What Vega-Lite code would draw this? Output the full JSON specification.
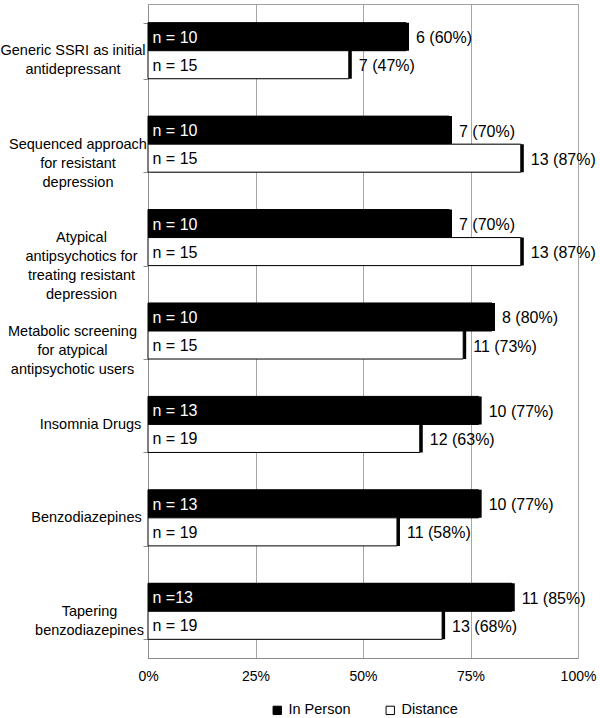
{
  "$schema": "https://vega.github.io/schema/vega-lite/v6.json",
  "autosize": "none",
  "width": 430,
  "height": 654,
  "padding": {"left": 148, "top": 4, "right": 22, "bottom": 60},
  "background": "white",
  "config": {
    "font": "Liberation Sans",
    "view": {"stroke": "#a0a0a0", "strokeWidth": 1},
    "axis": {"labelColor": "black", "labelFont": "Liberation Sans", "domainColor": "#8c8c8c", "tickColor": "#8c8c8c", "gridColor": "#a6a6a6"}
  },
  "data": {
    "values": [
      {"category": "Generic SSRI as initial antidepressant", "group": "In Person", "share": 0.6, "n": "n = 10", "label": "6 (60%)"},
      {"category": "Generic SSRI as initial antidepressant", "group": "Distance", "share": 0.467, "n": "n = 15", "label": "7 (47%)"},
      {"category": "Sequenced approach for resistant depression", "group": "In Person", "share": 0.7, "n": "n = 10", "label": "7 (70%)"},
      {"category": "Sequenced approach for resistant depression", "group": "Distance", "share": 0.867, "n": "n = 15", "label": "13 (87%)"},
      {"category": "Atypical antipsychotics for treating resistant depression", "group": "In Person", "share": 0.7, "n": "n = 10", "label": "7 (70%)"},
      {"category": "Atypical antipsychotics for treating resistant depression", "group": "Distance", "share": 0.867, "n": "n = 15", "label": "13 (87%)"},
      {"category": "Metabolic screening for atypical antipsychotic users", "group": "In Person", "share": 0.8, "n": "n = 10", "label": "8 (80%)"},
      {"category": "Metabolic screening for atypical antipsychotic users", "group": "Distance", "share": 0.733, "n": "n = 15", "label": "11 (73%)"},
      {"category": "Insomnia Drugs", "group": "In Person", "share": 0.769, "n": "n = 13", "label": "10 (77%)"},
      {"category": "Insomnia Drugs", "group": "Distance", "share": 0.632, "n": "n = 19", "label": "12 (63%)"},
      {"category": "Benzodiazepines", "group": "In Person", "share": 0.769, "n": "n = 13", "label": "10 (77%)"},
      {"category": "Benzodiazepines", "group": "Distance", "share": 0.579, "n": "n = 19", "label": "11 (58%)"},
      {"category": "Tapering benzodiazepines", "group": "In Person", "share": 0.846, "n": "n =13", "label": "11 (85%)"},
      {"category": "Tapering benzodiazepines", "group": "Distance", "share": 0.684, "n": "n = 19", "label": "13 (68%)"}
    ]
  },
  "encoding": {
    "y": {
      "field": "category",
      "type": "nominal",
      "sort": null,
      "scale": {"paddingInner": 0.4, "paddingOuter": 0.2},
      "axis": {
        "title": null,
        "tickBand": "extent",
        "tickSize": 5,
        "labelAlign": "center",
        "labelBaseline": "middle",
        "labelPadding": {
          "condition": [
            {"test": "datum.value == 'Generic SSRI as initial antidepressant'", "value": 70.5},
            {"test": "datum.value == 'Sequenced approach for resistant depression'", "value": 65.5},
            {"test": "datum.value == 'Atypical antipsychotics for treating resistant depression'", "value": 62},
            {"test": "datum.value == 'Metabolic screening for atypical antipsychotic users'", "value": 71},
            {"test": "datum.value == 'Insomnia Drugs'", "value": 53},
            {"test": "datum.value == 'Benzodiazepines'", "value": 57}
          ],
          "value": 54
        },
        "labelFontSize": 14.5,
        "labelLineHeight": 19,
        "labelLimit": 0,
        "labelExpr": "datum.value == 'Generic SSRI as initial antidepressant' ? ['Generic SSRI as initial', 'antidepressant'] : datum.value == 'Sequenced approach for resistant depression' ? ['Sequenced approach', 'for resistant', 'depression'] : datum.value == 'Atypical antipsychotics for treating resistant depression' ? ['Atypical', 'antipsychotics for', 'treating resistant', 'depression'] : datum.value == 'Metabolic screening for atypical antipsychotic users' ? ['Metabolic screening', 'for atypical', 'antipsychotic users'] : datum.value == 'Tapering benzodiazepines' ? ['Tapering', 'benzodiazepines'] : datum.value"
      }
    },
    "yOffset": {"field": "group", "type": "nominal", "sort": ["In Person", "Distance"], "scale": {"domain": ["In Person", "Distance"], "paddingInner": 0, "paddingOuter": 0}},
    "x": {
      "field": "share",
      "type": "quantitative",
      "scale": {"domain": [0, 1]},
      "axis": {
        "title": null,
        "values": [0, 0.25, 0.5, 0.75, 1],
        "format": ".0%",
        "ticks": false,
        "labelPadding": 11,
        "labelFontSize": 14,
        "grid": true,
        "labelFlush": false
      }
    }
  },
  "layer": [
    {
      "mark": {"type": "bar", "color": "black", "xOffset": 3, "yOffset": 3, "cornerRadius": 0}
    },
    {
      "mark": {"type": "bar", "stroke": "black", "strokeWidth": 1},
      "encoding": {
        "fill": {
          "field": "group",
          "type": "nominal",
          "scale": {"domain": ["In Person", "Distance"], "range": ["black", "white"]},
          "legend": {
            "title": null,
            "orient": "none",
            "direction": "horizontal",
            "legendX": 122,
            "legendY": 699,
            "symbolType": "square",
            "symbolSize": 70,
            "symbolStrokeColor": "black",
            "symbolStrokeWidth": 1,
            "labelFontSize": 14.5,
            "labelFont": "Liberation Sans",
            "labelColor": "black",
            "labelOffset": 4,
            "columnPadding": 32
          }
        }
      }
    },
    {
      "mark": {"type": "text", "align": "left", "baseline": "middle", "dx": 4.5, "dy": 1, "fontSize": 16, "font": "Liberation Sans"},
      "encoding": {
        "x": {"datum": 0},
        "text": {"field": "n"},
        "color": {"condition": {"test": "datum.group == 'In Person'", "value": "white"}, "value": "black"}
      }
    },
    {
      "mark": {"type": "text", "align": "left", "baseline": "middle", "dx": 10, "dy": 1.5, "fontSize": 16, "font": "Liberation Sans", "color": "black"},
      "encoding": {
        "text": {"field": "label"}
      }
    }
  ]
}
